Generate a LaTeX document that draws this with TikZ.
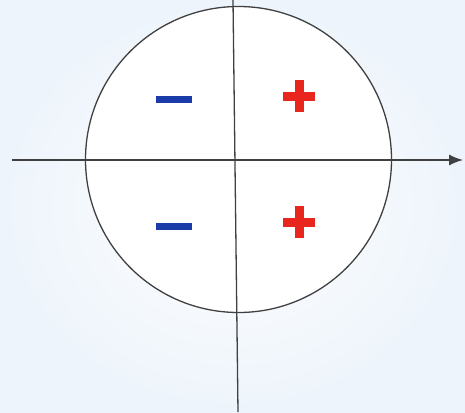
\documentclass[tikz,border=0pt]{standalone}
\usetikzlibrary{arrows.meta}
\definecolor{axisgray}{HTML}{404040}
\definecolor{minusblue}{HTML}{1B3CA8}
\definecolor{plusred}{HTML}{E8261E}
\definecolor{bgblue}{HTML}{EDF4FB}
\begin{document}
\begin{tikzpicture}[x=1pt,y=-1pt,
  axisline/.style={draw=axisgray,line width=1.3pt},
  minusbar/.style={fill=minusblue,draw=none,minimum width=36pt,minimum height=7pt,inner sep=0pt,rectangle},
  plusarm/.style={fill=plusred,draw=none,inner sep=0pt,rectangle},
]
\useasboundingbox (0,0) rectangle (465,412);
\shade[inner color=white,outer color=bgblue] (0,0) rectangle (465,412);
\node[circle,draw=axisgray,line width=1.3pt,minimum size=306pt,inner sep=0pt,fill=white] (c) at (238.5,159.5) {};
\coordinate (xs) at (12,160);
\coordinate (xe) at (463,160);
\coordinate (ys) at (233,0);
\coordinate (ye) at (238,412);
\draw[axisline,-{Latex[length=14pt,width=11pt]}] (xs) -- (xe);
\draw[axisline] (ys) -- (ye);
\node[minusbar] (m1) at (174,99) {};
\node[minusbar] (m2) at (174,226.5) {};
\node[plusarm,minimum width=32pt,minimum height=9pt] (p1h) at (299,96) {};
\node[plusarm,minimum width=9pt,minimum height=32pt] (p1v) at (299,96) {};
\node[plusarm,minimum width=32pt,minimum height=9pt] (p2h) at (299,222) {};
\node[plusarm,minimum width=9pt,minimum height=32pt] (p2v) at (299,222) {};
\end{tikzpicture}
\end{document}
